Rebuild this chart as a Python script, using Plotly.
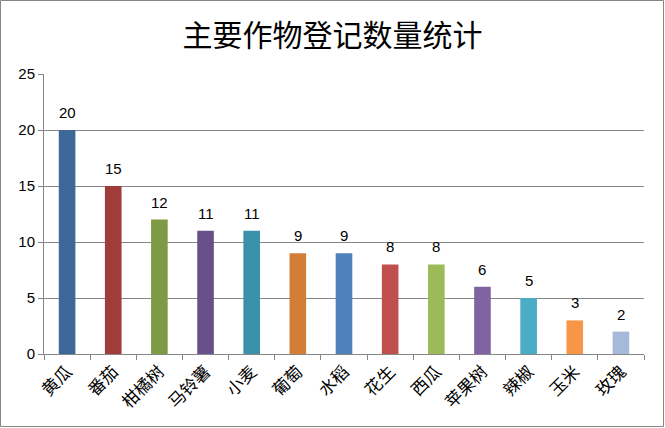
import plotly.graph_objects as go

categories = ["黄瓜", "番茄", "柑橘树", "马铃薯", "小麦", "葡萄", "水稻", "花生", "西瓜", "苹果树", "辣椒", "玉米", "玫瑰"]
values = [20, 15, 12, 11, 11, 9, 9, 8, 8, 6, 5, 3, 2]
colors = ["#3D6899", "#A03D3A", "#7F9A45", "#68518A", "#3A91A9", "#D37E37",
          "#4F81BD", "#C0504D", "#9BBB59", "#8064A2", "#4BACC6", "#F79646", "#A7B9DB"]
title_text = "主要作物登记数量统计"

W, H = 665, 428
ml, mr, mt, mb = 44, 21, 74, 74
pw, ph = W - ml - mr, H - mt - mb

fig = go.Figure(go.Bar(
    x=categories, y=values, marker=dict(color=colors, line=dict(width=0)),
    width=0.36, hoverinfo="x+y",
))

annotations = [dict(x=c, y=v, xref="x", yref="y", text=str(v), showarrow=False,
                    yanchor="bottom", yshift=7,
                    font=dict(family="Liberation Sans", size=15, color="black"))
               for c, v in zip(categories, values)]

fig.update_layout(
    width=W, height=H, margin=dict(l=ml, r=mr, t=mt, b=mb, autoexpand=False),
    paper_bgcolor="white", plot_bgcolor="white", showlegend=False,
    title=dict(text=title_text, x=0.5, xanchor="center", y=1 - 35 / H, yanchor="middle",
               font=dict(family="Noto Sans CJK SC", size=30, color="black")),
    xaxis=dict(showgrid=False, showline=True, linecolor="#868686", linewidth=1,
               ticks="outside", tickson="boundaries", ticklen=5, tickcolor="#868686",
               tickangle=-45, automargin=False,
               tickfont=dict(family="Noto Sans CJK SC", size=17, color="black")),
    yaxis=dict(range=[0, 25], dtick=5, showgrid=True, gridcolor="#868686", gridwidth=1,
               showline=True, linecolor="#868686", linewidth=1, ticks="outside", ticklen=5,
               tickcolor="#868686", zeroline=False, automargin=False,
               tickfont=dict(family="Liberation Sans", size=15, color="black")),
    annotations=annotations,
    shapes=[dict(type="rect", xref="paper", yref="paper",
                 x0=(-ml + 0.5) / pw, x1=1 + (mr - 1.5) / pw,
                 y0=(-mb + 1.5) / ph, y1=1 + (mt - 0.5) / ph,
                 line=dict(color="#868686", width=1), fillcolor="rgba(0,0,0,0)",
                 layer="above")],
)

fig.write_html("out.html", config={"displayModeBar": False},
               post_script="document.body.style.margin='0';document.body.style.overflow='hidden';")
